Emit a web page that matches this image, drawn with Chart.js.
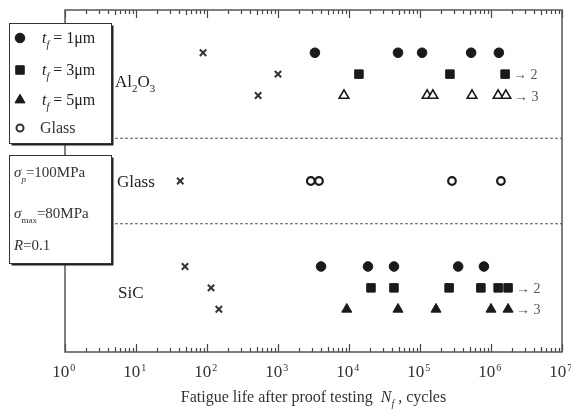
<!DOCTYPE html>
<html>
<head>
<meta charset="utf-8">
<script src="https://cdn.jsdelivr.net/npm/chart.js@4.4.1/dist/chart.umd.min.js"></script>
<style>
  html, body { margin: 0; padding: 0; background: #fff; }
</style>
</head>
<body>
<canvas id="chart" width="571" height="410"></canvas>
<script>
// Fatigue life after proof testing (cycles), one row per film thickness.
// Rows on the y scale: Al2O3 = 2,3,4 / Glass = 8 / SiC = 12,13,14

const tickBase = '10';
const tickExponents = ['0', '1', '2', '3', '4', '5', '6', '7'];

const aluminaRows = [2, 3, 4];
const glassRow = 8;
const sicRows = [12, 13, 14];
const separators = [6, 10];

const alumina1um = [3310, 49000, 107000, 525000, 1290000];
const alumina3um = [13800, 264000, 1580000];
const alumina5um = [8500, 126000, 152000, 540000, 1260000, 1620000];
const aluminaNoProof = [88, 1000, 525];

const glassLives = [2900, 3780, 282000, 1380000];
const glassNoProof = [42];

const sic1um = [4040, 18500, 43000, 345000, 795000];
const sic3um = [20400, 43000, 257000, 720000, 1260000, 1740000];
const sic5um = [9300, 49000, 168000, 1000000, 1740000];
const sicNoProof = [49, 114, 147];

// specimens that did not fail (count shown next to the arrow)
const runouts = [
    { x: 1580000, y: 3, n: 2 },
    { x: 1620000, y: 4, n: 3 },
    { x: 1740000, y: 13, n: 2 },
    { x: 1740000, y: 14, n: 3 }
];

const SERIF = '"Liberation Serif", "Times New Roman", serif';
const INK = '#1a1a1a';

const onRow = (xs, row) => xs.map(x => ({ x, y: row }));
const onRows = (xs, rows) => xs.map((x, i) => ({ x, y: rows[i] }));

const filled = (style, radius) => ({
    pointStyle: style, pointRadius: radius,
    backgroundColor: INK, borderColor: INK, borderWidth: 1
});
const open = (style, radius) => ({
    pointStyle: style, pointRadius: radius,
    backgroundColor: '#fff', borderColor: INK, borderWidth: 1.6
});
const cross = { pointStyle: 'crossRot', pointRadius: 4.5, borderColor: '#333', borderWidth: 2 };

const datasets = [
    { data: onRow(alumina1um, aluminaRows[0]), ...filled('circle', 4.8) },
    { data: onRow(alumina3um, aluminaRows[1]), ...filled('rect', 6) },
    { data: onRow(alumina5um, aluminaRows[2]), ...open('triangle', 5.6) },
    { data: onRows(aluminaNoProof, aluminaRows), ...cross },
    { data: onRow(glassLives, glassRow), ...open('circle', 3.8), borderWidth: 2.2 },
    { data: onRow(glassNoProof, glassRow), ...cross },
    { data: onRow(sic1um, sicRows[0]), ...filled('circle', 4.8) },
    { data: onRow(sic3um, sicRows[1]), ...filled('rect', 6) },
    { data: onRow(sic5um, sicRows[2]), ...filled('triangle', 5.8) },
    { data: onRows(sicNoProof, sicRows), ...cross }
];

// dashed lines between the material groups
separators.forEach(y => {
    datasets.push({
        type: 'line',
        data: [{ x: 1, y }, { x: 1e7, y }],
        borderColor: '#555', borderWidth: 1.2, borderDash: [3, 2],
        pointRadius: 0, order: 5
    });
});

const isDecade = v => {
    const e = Math.log10(v);
    return Math.abs(e - Math.round(e)) < 1e-9;
};

// text made of normal, italic and subscript pieces
function drawRich(ctx, parts, x, y, size, align) {
    const fontOf = p => `${p.it ? 'italic ' : ''}${p.sub ? Math.round(size * 0.62) : size}px ${SERIF}`;
    let width = 0;
    parts.forEach(p => { ctx.font = fontOf(p); width += ctx.measureText(p.t).width; });
    let cx = align === 'center' ? x - width / 2 : x;
    parts.forEach(p => {
        ctx.font = fontOf(p);
        ctx.fillText(p.t, cx, y + (p.sub ? size * 0.32 : 0));
        cx += ctx.measureText(p.t).width;
    });
}

function drawBox(ctx, x, y, w, h) {
    ctx.fillStyle = '#222';
    ctx.fillRect(x + 2.5, y + 2.5, w, h);
    ctx.fillStyle = '#fff';
    ctx.fillRect(x, y, w, h);
    ctx.strokeStyle = '#333';
    ctx.lineWidth = 1;
    ctx.strokeRect(x + 0.5, y + 0.5, w, h);
}

const framePlugin = {
    id: 'frame',
    beforeDatasetsDraw(chart) {
        const { ctx, chartArea: a, scales: { x } } = chart;
        ctx.save();
        ctx.strokeStyle = '#444';
        ctx.lineWidth = 1.2;
        for (let d = 0; d <= 7; d++) {
            for (let m = 1; m <= 9; m++) {
                const v = m * Math.pow(10, d);
                if (v > 1e7) break;
                const px = Math.round(x.getPixelForValue(v)) + 0.5;
                const len = m === 1 ? 8 : (m === 5 ? 5 : 4);
                ctx.beginPath();
                ctx.moveTo(px, a.bottom); ctx.lineTo(px, a.bottom - len);
                ctx.moveTo(px, a.top); ctx.lineTo(px, a.top + len);
                ctx.stroke();
            }
        }
        ctx.lineWidth = 1.5;
        ctx.strokeStyle = '#555';
        ctx.strokeRect(a.left, a.top, a.right - a.left, a.bottom - a.top);
        ctx.restore();
    },
    afterDraw(chart) {
        const { ctx, chartArea: a, scales: { x, y } } = chart;
        ctx.save();
        ctx.textBaseline = 'alphabetic';

        // exponents of the decade labels
        ctx.fillStyle = '#333';
        ctx.font = `17px ${SERIF}`;
        const baseW = ctx.measureText(tickBase).width;
        const padW = ctx.measureText('\u2002').width;
        ctx.font = `10px ${SERIF}`;
        x.ticks.forEach(t => {
            if (!isDecade(t.value)) return;
            const px = x.getPixelForValue(t.value);
            const e = tickExponents[Math.round(Math.log10(t.value))];
            ctx.fillText(e, px - (baseW + padW) / 2 + baseW + 1, a.bottom + 19);
        });

        // material names
        ctx.fillStyle = '#222';
        drawRich(ctx, [{ t: 'Al' }, { t: '2', sub: true }, { t: 'O' }, { t: '3', sub: true }],
            115, y.getPixelForValue(3.3) + 6, 17);
        drawRich(ctx, [{ t: 'Glass' }], 117, y.getPixelForValue(glassRow) + 6, 17);
        drawRich(ctx, [{ t: 'SiC' }], 118, y.getPixelForValue(13.2) + 6, 17);

        // run-out arrows
        ctx.fillStyle = '#555';
        runouts.forEach(r => {
            drawRich(ctx, [{ t: '→ ' + r.n }], x.getPixelForValue(r.x) + 8, y.getPixelForValue(r.y) + 5, 14);
        });

        // symbol key
        drawBox(ctx, 9, 23, 102, 120);
        const keyRows = [
            { style: 'circle', r: 4.8, fill: INK, yy: 38, n: '1' },
            { style: 'rect', r: 6, fill: INK, yy: 70, n: '3' },
            { style: 'triangle', r: 5.8, fill: INK, yy: 100, n: '5' }
        ];
        keyRows.forEach(k => {
            ctx.fillStyle = k.fill; ctx.strokeStyle = INK; ctx.lineWidth = 1;
            Chart.helpers.drawPoint(ctx, { pointStyle: k.style, radius: k.r, rotation: 0, borderWidth: 1 }, 20, k.yy);
            ctx.fillStyle = '#222';
            drawRich(ctx, [{ t: 't', it: true }, { t: 'f', it: true, sub: true }, { t: ' = ' + k.n + 'μm' }], 42, k.yy + 5, 16);
        });
        ctx.fillStyle = '#fff'; ctx.strokeStyle = '#333'; ctx.lineWidth = 2;
        Chart.helpers.drawPoint(ctx, { pointStyle: 'circle', radius: 3.5, rotation: 0, borderWidth: 2 }, 20, 128);
        ctx.fillStyle = '#333';
        drawRich(ctx, [{ t: 'Glass' }], 40, 133, 16);

        // test conditions
        drawBox(ctx, 9, 155, 102, 108);
        ctx.fillStyle = '#333';
        drawRich(ctx, [{ t: 'σ', it: true }, { t: 'p', it: true, sub: true }, { t: '=100MPa' }], 14, 177, 15);
        drawRich(ctx, [{ t: 'σ', it: true }, { t: 'max', sub: true }, { t: '=80MPa' }], 14, 218, 15);
        drawRich(ctx, [{ t: 'R', it: true }, { t: '=0.1' }], 14, 250, 15);

        // axis title
        ctx.fillStyle = '#333';
        drawRich(ctx, [{ t: 'Fatigue life after proof testing  ' }, { t: 'N', it: true },
            { t: 'f', it: true, sub: true }, { t: ' , cycles' }], (a.left + a.right) / 2, 402, 16, 'center');
        ctx.restore();
    }
};

new Chart(document.getElementById('chart'), {
    type: 'scatter',
    data: { datasets },
    options: {
        responsive: false,
        devicePixelRatio: 1,
        animation: false,
        layout: { padding: { left: 65, right: 9, top: 10, bottom: 0 } },
        plugins: { legend: { display: false }, tooltip: { enabled: false } },
        scales: {
            x: {
                type: 'logarithmic',
                min: 1, max: 1e7,
                grid: { display: false, drawTicks: false },
                border: { display: false },
                ticks: {
                    autoSkip: false, maxRotation: 0, padding: 10, color: '#333',
                    font: { family: SERIF, size: 17 },
                    // decade labels get a trailing gap for the exponent drawn in the plugin
                    callback: v => isDecade(v) ? tickBase + '\u2002' : ''
                },
                afterFit: s => { s.height = 58; s.paddingLeft = 0; s.paddingRight = 0; }
            },
            y: { type: 'linear', min: 0, max: 16, reverse: true, display: false }
        }
    },
    plugins: [framePlugin]
});
</script>
</body>
</html>
